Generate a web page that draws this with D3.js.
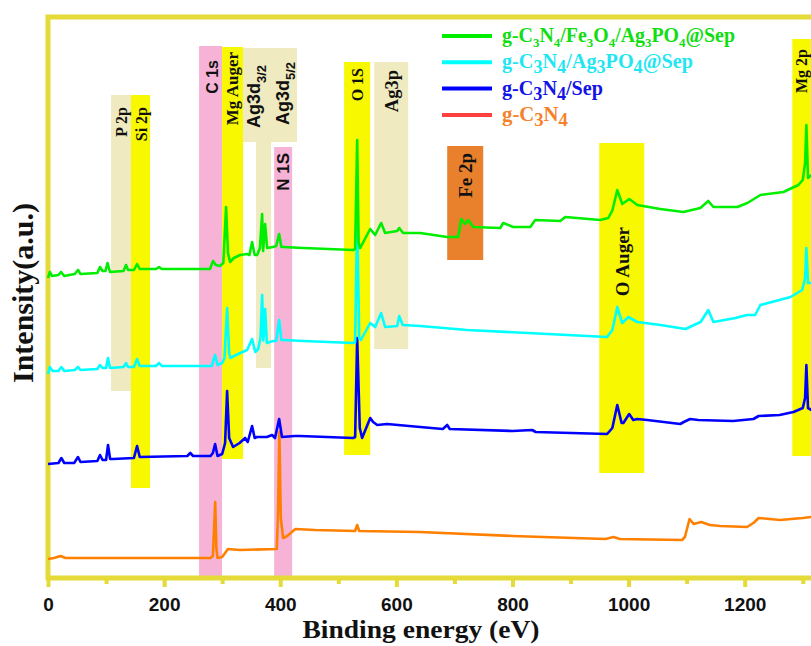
<!DOCTYPE html>
<html>
<head>
<meta charset="utf-8">
<script src="https://cdn.jsdelivr.net/npm/d3@7"></script>
<style>
  body { margin: 0; background: #fff; }
  svg { display: block; }
</style>
</head>
<body>
<svg id="chart" width="811" height="646"></svg>
<script>
// ---- XPS survey spectra: [binding energy (eV), intensity (a.u., stacked)] ----
const seriesNames = [
  "g-C_3N_4/Fe_3O_4/Ag_3PO_4@Sep",
  "g-C_3N_4/Ag_3PO_4@Sep",
  "g-C_3N_4/Sep",
  "g-C_3N_4"
];

const spectrumGCN = [
  [0, 3.8], [10, 4.0], [22, 4.4], [30, 4.0], [100, 4.0], [200, 4.0], [280, 4.0],
  [284, 4.4], [288, 15.2], [290, 6.0], [292, 4.0], [300, 4.2], [310, 5.8], [330, 5.6],
  [394, 5.8], [396, 12], [398.5, 29.2], [401, 12], [405, 8.0], [412, 8.4], [426, 9.8],
  [460, 9.6], [529, 9.4], [532.5, 10.6], [536, 9.4], [640, 9.2], [800, 8.4], [960, 7.8],
  [974, 8.2], [985, 7.8], [1092, 7.6], [1097, 8.2], [1105, 11.8], [1112, 10.8],
  [1125, 11.2], [1140, 10.6], [1158, 10.4], [1204, 10.2], [1215, 11.0], [1224, 12.0],
  [1261, 11.6], [1300, 12.0], [1315, 12.2]
];

const spectrumGCNSep = [
  [0, 22.8], [18, 23.0], [23, 24.0], [28, 23.0], [45, 23.0], [51.7, 24.2], [56, 23.2],
  [85, 23.4], [89.6, 24.6], [94, 23.6], [100, 23.6], [103.4, 26.6], [107, 23.8],
  [112, 23.8], [148, 24.0], [153.4, 26.4], [158, 24.2], [240, 24.4], [245, 25.0],
  [250, 24.4], [280, 24.4], [284, 25.0], [287.8, 26.8], [292, 24.4], [300, 24.8],
  [305, 27.0], [308.5, 37.4], [312, 28.0], [318.8, 26.2], [330, 27.0], [339.5, 28.0],
  [344, 27.2], [351.5, 30.4], [356, 28.0], [360, 28.2], [377, 28.2], [386, 28.6],
  [391, 28.0], [398.1, 31.8], [403, 28.2], [425, 28.4], [434, 28.4], [525.6, 28.0],
  [529, 28.2], [532.5, 48.0], [537, 30.0], [541, 28.0], [555, 32.0], [560, 31.2],
  [567, 30.6], [584, 30.8], [641, 30.2], [680, 29.8], [687.6, 30.6], [692, 29.8],
  [800, 29.4], [834, 29.6], [840, 29.2], [963, 28.8], [972, 30.0], [980.5, 34.6],
  [988, 31.0], [991, 31.0], [1001, 32.8], [1008, 31.6], [1015, 31.8], [1032, 31.6],
  [1089, 30.8], [1095, 31.2], [1106, 31.8], [1120, 31.6], [1180, 31.4], [1215, 31.8],
  [1224, 32.4], [1260, 32.6], [1284, 33.2], [1300, 34.0], [1304, 36.0], [1306.2, 42.6],
  [1309, 34.0], [1315, 33.6]
];

const spectrumGCNAgSep = [
  [0, 40.8], [3, 42.2], [8, 41.4], [18, 41.4], [23, 42.2], [28, 41.4], [46, 41.6],
  [51.7, 42.2], [56, 41.6], [85, 41.8], [89.6, 42.6], [94, 42.0], [100, 42.0],
  [103.4, 44.0], [107, 42.0], [130, 42.2], [134.4, 43.0], [138, 42.2], [148, 42.2],
  [153.4, 43.8], [158, 42.4], [186, 42.4], [191.3, 43.0], [196, 42.4], [282, 42.4],
  [287.8, 44.6], [292, 42.6], [300, 43.0], [304, 44.0], [308.5, 54.0], [312, 45.0],
  [314, 44.0], [331, 45.0], [343, 45.6], [351.5, 47.8], [357, 45.2], [362, 45.8],
  [366, 48.0], [368.8, 56.6], [371, 47.5], [374, 53.8], [377, 47.0], [387.7, 47.4],
  [393, 47.4], [398.1, 51.6], [402, 47.6], [405, 47.6], [440, 47.4], [525.6, 47.0],
  [529, 47.2], [532.5, 72.0], [536, 48.0], [539, 47.6], [555, 51.0], [563.5, 50.2],
  [573.8, 53.0], [580.7, 50.2], [601.4, 50.4], [604.9, 52.4], [611, 50.6], [641, 50.4],
  [722, 49.6], [963, 48.2], [972, 49.6], [980.5, 54.2], [989, 51.0], [999.5, 52.2],
  [1015, 51.2], [1055, 50.6], [1098, 49.8], [1124, 51.2], [1137.3, 53.6], [1146, 51.2],
  [1184, 52.0], [1204, 52.6], [1218, 52.6], [1227, 54.6], [1279, 56.2], [1299, 57.6],
  [1304, 60.0], [1306.2, 66.0], [1309, 59.0], [1315, 59.0]
];

const spectrumGCNFeAgSep = [
  [0, 60.0], [3, 61.2], [7, 60.4], [18, 60.6], [22.4, 61.2], [28, 60.4], [46, 60.8],
  [51.7, 61.6], [56, 60.8], [85, 61.0], [89.6, 62.2], [94, 61.4], [99, 61.4],
  [102.5, 63.0], [106.8, 61.2], [130, 61.4], [134.4, 62.6], [138, 61.6], [148, 61.6],
  [153.4, 62.8], [158, 61.8], [186, 61.8], [191.3, 62.2], [196, 61.8], [279, 61.8],
  [284.3, 63.4], [289, 62.6], [296, 62.4], [302, 63.0], [306.7, 74.2], [310, 65.0],
  [313.6, 63.2], [320, 64.0], [330.9, 64.6], [342.9, 64.8], [347, 64.6], [351.5, 67.2],
  [356, 64.6], [360.2, 64.6], [365, 66.0], [368.8, 72.8], [370.5, 65.4], [374, 70.8],
  [377.4, 66.0], [387.7, 66.2], [393, 66.4], [398.1, 68.8], [402, 66.2], [405, 66.2],
  [440, 66.0], [525.6, 65.6], [529, 65.8], [532.5, 87.6], [535, 67.0], [537.7, 66.0],
  [554.9, 69.8], [563.5, 68.6], [573.8, 71.0], [580.7, 69.0], [601.4, 69.4],
  [604.9, 70.0], [611.7, 69.0], [641, 69.0], [687.6, 68.2], [706.5, 68.2],
  [711.7, 71.8], [718.6, 70.8], [723.8, 71.6], [732.4, 70.2], [778.9, 70.0],
  [784.1, 71.0], [801.3, 70.2], [830.6, 70.2], [839.2, 71.6], [882.3, 71.4],
  [890.9, 72.2], [951.2, 71.6], [965, 72.0], [972, 73.5], [980.5, 77.6], [989.1, 74.8],
  [1001.2, 75.8], [1015, 74.6], [1054.6, 73.8], [1094.3, 73.2], [1123.6, 74.0],
  [1137.3, 75.4], [1146, 74.2], [1187.3, 74.2], [1204.5, 75.0], [1227, 76.6],
  [1266.6, 77.2], [1292.4, 78.6], [1300, 79.6], [1304, 83.0], [1306.2, 90.6],
  [1309, 80.0], [1315, 80.6]
];

// Highlighted binding-energy windows: [from eV, to eV, lower a.u., upper a.u., kind]
const bandRanges = [
  [108.6, 143.0, 37.4, 96.6, "beige"],   // P 2p
  [143.0, 175.8, 18.0, 96.6, "yellow"],  // Si 2p
  [260.2, 299.8, 0.0, 106.4, "pink"],    // C 1s
  [299.8, 336.0, 23.8, 106.2, "yellow"], // Mg Auger
  [336.0, 429.0, 87.2, 106.0, "beige"],  // Ag 3d
  [358.4, 384.3, 42.0, 87.2, "beige"],   // Ag 3d
  [389.5, 420.5, 0.0, 86.2, "pink"],     // N 1s
  [510.0, 555.0, 24.6, 103.2, "yellow"], // O 1s
  [561.8, 620.4, 45.8, 103.2, "beige"],  // Ag 3p
  [687.6, 749.6, 63.6, 86.4, "orange"],  // Fe 2p
  [949.5, 1027.0, 21.0, 87.0, "yellow"], // O Auger
  [1282.0, 1345.0, 24.4, 107.8, "yellow"] // Mg 2p
];

// Peak labels: [text, energy eV, upper end in a.u., face]
const peakLabels = [
  ["P 2p", 125.8, 94.2, "serif"],
  ["Si 2p", 160.3, 94.2, "serif"],
  ["C 1s", 282.6, 103.6, "sans"],
  ["Mg Auger", 317.0, 105.2, "serif"],
  ["Ag3d_{3/2}", 355.0, 102.6, "sans"],
  ["Ag3d_{5/2}", 405.0, 103.2, "sans"],
  ["N 1S", 405.0, 85.0, "sans"],
  ["O 1S", 532.5, 102.0, "serif"],
  ["Ag3p", 591.0, 101.6, "serif"],
  ["Fe 2p", 718.6, 85.0, "serif"],
  ["O Auger", 989.0, 70.2, "serif"],
  ["Mg 2p", 1297.5, 105.8, "serif"]
];

const majorTicks = [0, 200, 400, 600, 800, 1000, 1200];
const minorTicks = [100, 300, 500, 700, 900, 1100, 1300];

// ---- styles ----
const frameColor = "#e4da38";
const bandFill = { beige: "#f0eac0", yellow: "#f8f800", pink: "#f6b3d6", orange: "#e8802c" };
const lineColors = ["#00ee00", "#00ffff", "#0000ff", "#ff8000"];
const legendLineColors = ["#00ee00", "#00ffff", "#0000ff", "#ff4040"];
const legendTextColors = ["#11dd11", "#1fe6f2", "#1212e6", "#f5822a"];
const legendSubSizes = [13, 18, 18, 18];
const legendWidths = [233, 191, 101, 66];
const labelSizes = { "P 2p": 16, "Si 2p": 16, "C 1s": 16, "Mg Auger": 17, "Ag3d_{3/2}": 18,
  "Ag3d_{5/2}": 18, "N 1S": 17, "O 1S": 16, "Ag3p": 18.5, "Fe 2p": 19, "O Auger": 19, "Mg 2p": 16 };
const SERIF = "'Liberation Serif', 'Times New Roman', serif";
const SANS = "'Liberation Sans', Arial, sans-serif";

const svg = d3.select("#chart");
const x = d3.scaleLinear().domain([0, 1340]).range([48, 826]);
const y = d3.scaleLinear().domain([0, 112.2]).range([578, 17]);

// shaded windows
svg.append("g").selectAll("rect").data(bandRanges).join("rect")
  .attr("x", d => x(d[0]))
  .attr("width", d => x(d[1]) - x(d[0]))
  .attr("y", d => y(d[3]))
  .attr("height", d => y(d[2]) - y(d[3]))
  .attr("fill", d => bandFill[d[4]]);

// text with "_x" / "_{..}" subscripts
function parseRich(s) {
  const parts = [];
  let i = 0, buf = "";
  while (i < s.length) {
    if (s[i] === "_") {
      if (buf) { parts.push({ t: buf, sub: false }); buf = ""; }
      if (s[i + 1] === "{") {
        const j = s.indexOf("}", i);
        parts.push({ t: s.slice(i + 2, j), sub: true });
        i = j + 1;
      } else {
        parts.push({ t: s[i + 1], sub: true });
        i += 2;
      }
    } else { buf += s[i]; i++; }
  }
  if (buf) parts.push({ t: buf, sub: false });
  return parts;
}
function fillRich(textSel, s, subSize, shift) {
  let lowered = false;
  parseRich(s).forEach(p => {
    const ts = textSel.append("tspan").text(p.t);
    if (p.sub && !lowered) { ts.attr("dy", shift).attr("font-size", subSize); lowered = true; }
    else if (p.sub) { ts.attr("font-size", subSize); }
    else if (lowered) { ts.attr("dy", -shift); lowered = false; }
  });
}

// peak labels (vertical)
peakLabels.forEach(([label, e, top, face]) => {
  const size = labelSizes[label];
  const t = svg.append("text")
    .attr("transform", `translate(${x(e)},${y(top)}) rotate(-90)`)
    .attr("text-anchor", "end")
    .attr("dy", "0.35em")
    .attr("font-family", face === "serif" ? SERIF : SANS)
    .attr("font-weight", "bold")
    .attr("font-size", size)
    .attr("fill", "#111");
  fillRich(t, label, size * 0.72, size * 0.3);
});

// frame
svg.append("rect")
  .attr("x", x(0)).attr("y", y(112.2))
  .attr("width", x(1340) - x(0)).attr("height", y(0) - y(112.2))
  .attr("fill", "none").attr("stroke", frameColor).attr("stroke-width", 5);

// bottom axis
const axisMajor = svg.append("g").attr("transform", `translate(0,${y(0)})`)
  .call(d3.axisBottom(x).tickValues(majorTicks).tickSize(9).tickPadding(11).tickFormat(d3.format("d")));
axisMajor.select(".domain").remove();
axisMajor.selectAll(".tick line").attr("stroke", frameColor).attr("stroke-width", 4);
axisMajor.selectAll(".tick text")
  .attr("font-family", SANS).attr("font-weight", "bold").attr("font-size", 19).attr("fill", "#111");

const axisMinor = svg.append("g").attr("transform", `translate(0,${y(0)})`)
  .call(d3.axisBottom(x).tickValues(minorTicks).tickSize(6).tickFormat(""));
axisMinor.select(".domain").remove();
axisMinor.selectAll(".tick line").attr("stroke", frameColor).attr("stroke-width", 4);

// spectra (bottom trace first so upper traces sit on top)
const line = d3.line().x(d => x(d[0])).y(d => y(d[1]));
const spectra = [spectrumGCNFeAgSep, spectrumGCNAgSep, spectrumGCNSep, spectrumGCN];
[3, 2, 1, 0].forEach(i => {
  svg.append("path").datum(spectra[i])
    .attr("d", line)
    .attr("fill", "none")
    .attr("stroke", lineColors[i])
    .attr("stroke-width", 2.6)
    .attr("stroke-linejoin", "round");
});

// legend
const legend = svg.append("g");
seriesNames.forEach((name, i) => {
  const ly = 36 + i * 26.3;
  legend.append("line")
    .attr("x1", 442).attr("x2", 492).attr("y1", ly).attr("y2", ly)
    .attr("stroke", legendLineColors[i]).attr("stroke-width", 4);
  const g = legend.append("g");
  const t = g.append("text")
    .attr("x", 0).attr("y", 0)
    .attr("font-family", SERIF).attr("font-weight", "bold").attr("font-size", 20)
    .attr("fill", legendTextColors[i]);
  fillRich(t, name, legendSubSizes[i], 5);
  const k = legendWidths[i] / t.node().getComputedTextLength();
  g.attr("transform", `translate(502,${ly + 6}) scale(${k},1)`);
});

// axis titles
svg.append("text")
  .attr("x", 421).attr("y", 638)
  .attr("text-anchor", "middle")
  .attr("font-family", SERIF).attr("font-weight", "bold").attr("font-size", 26)
  .attr("textLength", 237).attr("lengthAdjust", "spacingAndGlyphs")
  .attr("fill", "#111")
  .text("Binding energy (eV)");

svg.append("text")
  .attr("transform", "translate(33,293) rotate(-90)")
  .attr("text-anchor", "middle")
  .attr("font-family", SERIF).attr("font-weight", "bold").attr("font-size", 30)
  .attr("fill", "#111")
  .text("Intensity(a.u.)");
</script>
</body>
</html>
